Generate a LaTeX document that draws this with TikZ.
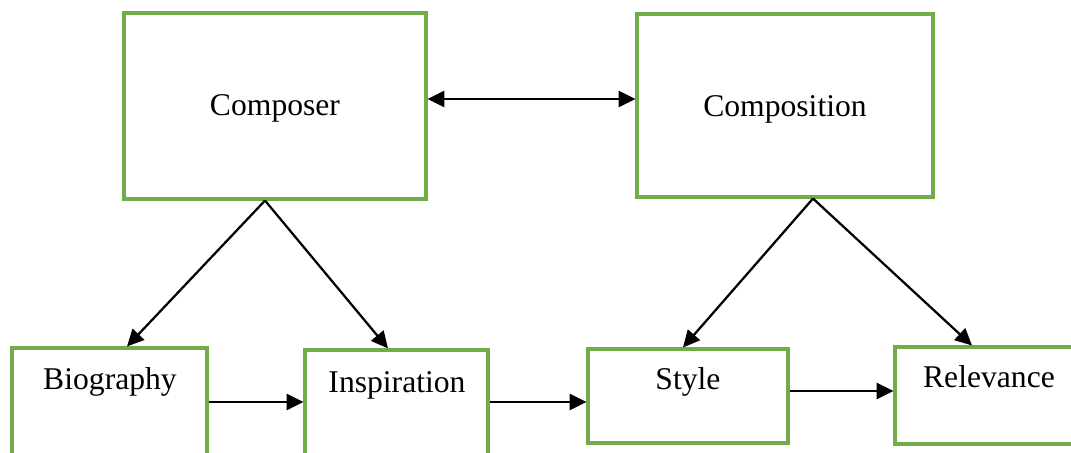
\documentclass[tikz,border=0pt]{standalone}
\usepackage{fontspec}
\setmainfont{Liberation Serif}
\usepackage{xcolor}
\usetikzlibrary{arrows.meta,positioning}

\definecolor{boxgreen}{RGB}{112,173,71}

\tikzset{
  topic/.style={draw=boxgreen, line width=2.2pt, rectangle, inner sep=0pt},
  word/.style={font=\fontsize{22.5}{27}\selectfont, inner sep=0pt},
  tip/.style={-{Triangle[length=0.42cm,width=0.4cm]}},
  link/.style={line width=1.6pt, tip}
}

\begin{document}
\begin{tikzpicture}
                    \useasboundingbox (0,0) rectangle (26.775,-11.325);
                    % Upper boxes
                    \node[topic, minimum width=7.55cm, minimum height=4.65cm] (composer) at (6.875,-2.65) {};
                    \node[topic, minimum width=7.4cm, minimum height=4.575cm] (composition) at (19.625,-2.6375) {};
                    \node[word] (composertxt) at ([yshift=-0.06cm]composer.center) {Composer};
                    \node[word] (compositiontxt) at ([yshift=-0.1cm]composition.center) {Composition};
                    % Lower boxes
                    \node[topic, minimum width=4.875cm, minimum height=2.8cm] (biography) at (2.7375,-10.1) {};
                    \node[topic, minimum width=4.575cm, minimum height=2.75cm] (inspiration) at (9.9125,-10.125) {};
                    \node[topic, minimum width=5cm, minimum height=2.35cm] (style) at (17.2,-9.9) {};
                    \node[topic, minimum width=4.625cm, minimum height=2.425cm] (relevance) at (24.6875,-9.8875) {};
                    \node[word, anchor=base] (biographytxt) at (2.75,-9.75) {Biography};
                    \node[word, anchor=base] (inspirationtxt) at (9.925,-9.82) {Inspiration};
                    \node[word, anchor=base] (styletxt) at (17.2,-9.75) {Style};
                    \node[word, anchor=base] (relevancetxt) at (24.725,-9.7) {Relevance};
                    % Foot points of the branching arrows
                    \coordinate (composerfoot) at ([xshift=-0.25cm]composer.south);
                    \coordinate (compositionfoot) at ([xshift=0.7cm]composition.south);
                    % Connectors
                    \draw[link, {Triangle[length=0.42cm,width=0.4cm]}-{Triangle[length=0.42cm,width=0.4cm]}] ([yshift=0.175cm]composer.east) -- ([yshift=0.175cm]composer.east -| composition.west);
                    \draw[link] (composerfoot) -- ([xshift=0.4375cm]biography.north);
                    \draw[link] (composerfoot) -- ([xshift=-0.2125cm]inspiration.north);
                    \draw[link] (compositionfoot) -- ([xshift=-0.125cm]style.north);
                    \draw[link] (compositionfoot) -- ([xshift=-0.3875cm]relevance.north);
                    \draw[link] ([yshift=0.05cm]biography.east) -- ([yshift=0.05cm]biography.east -| inspiration.west);
                    \draw[link] ([yshift=0.075cm]inspiration.east) -- ([yshift=0.075cm]inspiration.east -| style.west);
                    \draw[link] ([yshift=0.125cm]style.east) -- ([yshift=0.125cm]style.east -| relevance.west);
                \end{tikzpicture}
\end{document}
